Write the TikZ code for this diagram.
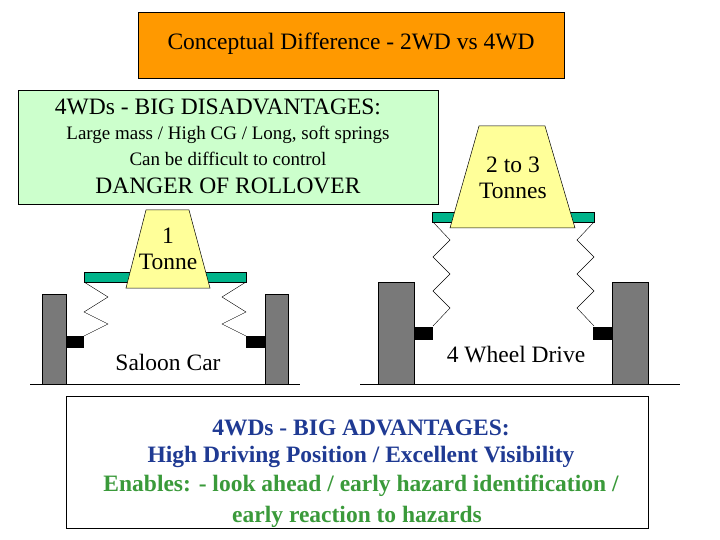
\documentclass[tikz,border=0pt]{standalone}
\usepackage{fontspec}
\setmainfont{Liberation Serif}
\newfontfamily\tnr{Liberation Serif}
\definecolor{orng}{HTML}{FF9900}
\definecolor{lgreen}{HTML}{CCFFCC}
\definecolor{teal2}{HTML}{00B38A}
\definecolor{ylw}{HTML}{FFFF99}
\definecolor{navy}{HTML}{1F3A93}
\definecolor{dgreen}{HTML}{3A9A3A}
\tikzset{
  wheel/.style={fill=gray!95!black,draw=black,line width=0.6pt},
  stub/.style={fill=black},
  bar/.style={fill=teal2,draw=black,line width=0.5pt},
  mass/.style={fill=ylw,draw=black,line width=0.5pt},
  spring/.style={draw=black,line width=0.4pt},
  txt/.style={font=\tnr\fontsize{23.5}{26}\selectfont,align=center,inner sep=0pt},
  stxt/.style={font=\tnr\fontsize{19}{22}\selectfont,align=center,inner sep=0pt},
  btxt/.style={font=\tnr\fontsize{23.5}{26}\selectfont\bfseries,align=center,inner sep=0pt}
}
\begin{document}
\begin{tikzpicture}[x=1pt,y=-1pt]
\useasboundingbox (0,0) rectangle (720,540);
% title
\node[draw=black,fill=orng,minimum width=426pt,minimum height=66pt,anchor=north west,inner sep=0pt] (title) at (138,12) {};
\node[txt] (tt) at (351,44) {Conceptual Difference - 2WD vs 4WD};
% disadvantages box
\node[draw=black,fill=lgreen,minimum width=420pt,minimum height=114pt,anchor=north west,inner sep=0pt] (dis) at (18,90) {};
\node[txt] (d1) at (218,107) {4WDs - BIG DISADVANTAGES:};
\node[stxt] (d2) at (228,135) {Large mass / High CG / Long, soft springs};
\node[stxt] (d3) at (228,159) {Can be difficult to control};
\node[txt] (d4) at (228,186) {DANGER OF ROLLOVER};
% left car
\draw[spring] (84,282) -- (108,297) -- (84,312) -- (108,324) -- (84,336);
\draw[spring] (246,282) -- (222,297) -- (246,312) -- (222,324) -- (246,336);
\fill[wheel] (42,294) rectangle (66,384);
\fill[wheel] (265,294) rectangle (288,384);
\fill[stub] (66,336) rectangle (84,348);
\fill[stub] (246,336) rectangle (265,348);
\draw[bar] (84,272) rectangle (246,282);
\draw[mass] (126,288) -- (146,210) -- (189,210) -- (210,288) -- cycle;
\node[txt] (m1) at (168,249) {1\\Tonne};
\draw (30,384) -- (300,384);
\node[txt] (sc) at (168,362) {Saloon Car};
% right car
\draw[spring] (433,222) -- (450,240) -- (433,257) -- (450,274) -- (433,291) -- (450,308) -- (433,326);
\draw[spring] (594,222) -- (577,240) -- (594,257) -- (577,274) -- (594,291) -- (577,308) -- (594,326);
\fill[wheel] (378,282) rectangle (414,384);
\fill[wheel] (612,282) rectangle (648,384);
\fill[stub] (414,327) rectangle (433,340);
\fill[stub] (593,327) rectangle (612,340);
\draw[bar] (432,212) rectangle (594,222);
\draw[mass] (450,228) -- (479,126) -- (545,126) -- (575,228) -- cycle;
\node[txt] (m2) at (513,178) {2 to 3\\Tonnes};
\draw (360,384) -- (680,384);
\node[txt] (fw) at (516,355) {4 Wheel Drive};
% advantages box
\node[draw=black,fill=white,minimum width=582pt,minimum height=132pt,anchor=north west,inner sep=0pt] (adv) at (66,396) {};
\node[btxt,text=navy] (a1) at (361,428) {4WDs - BIG ADVANTAGES:};
\node[btxt,text=navy] (a2) at (361,457) {High Driving Position / Excellent Visibility};
\node[btxt,text=dgreen] (a3) at (361,486) {Enables: - look ahead / early hazard identification /};
\node[btxt,text=dgreen] (a4) at (357,517) {early reaction to hazards};
\end{tikzpicture}
\end{document}
